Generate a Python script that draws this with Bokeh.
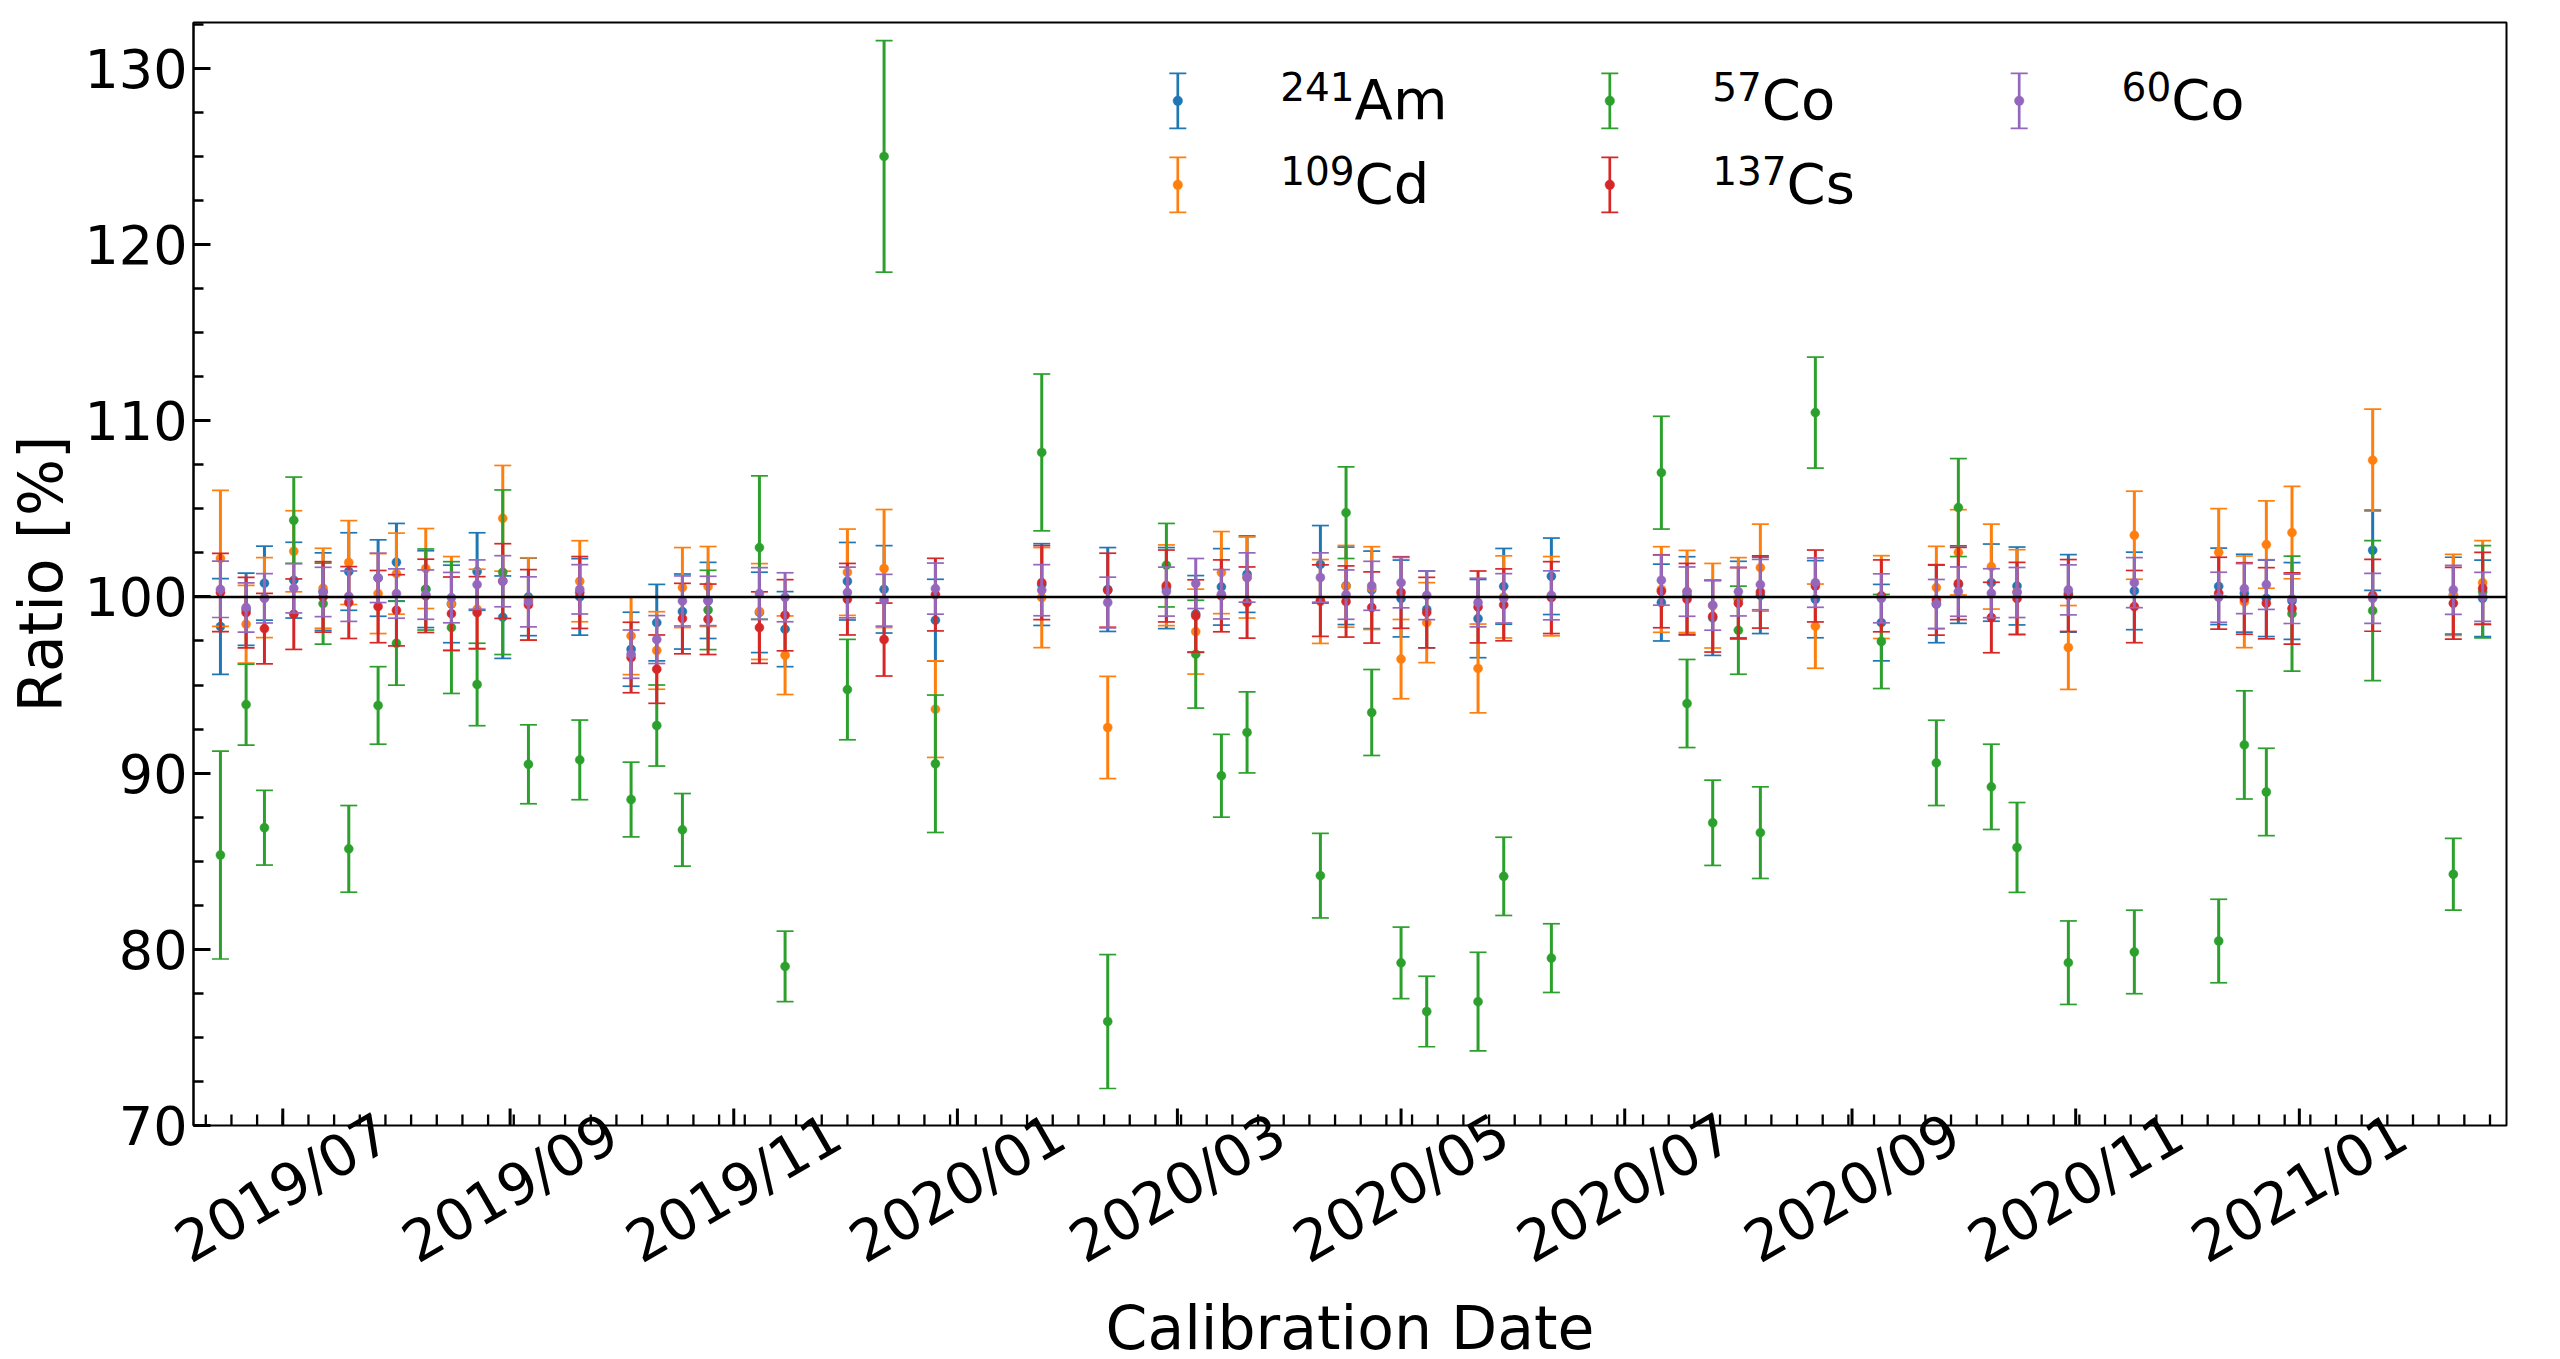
import math
from datetime import datetime, timedelta
import pandas as pd
from bokeh.plotting import figure
from bokeh.models import (Range1d, FixedTicker, SingleIntervalTicker, Span,
                          DatetimeTickFormatter, ColumnDataSource)
from bokeh.core.properties import value
from bokeh.embed import file_html
from bokeh.resources import INLINE

# ---------------- data ----------------
dates = ["2019-06-14", "2019-06-21", "2019-06-26", "2019-07-04", "2019-07-12", "2019-07-19",
         "2019-07-27", "2019-08-01", "2019-08-09", "2019-08-16", "2019-08-23", "2019-08-30",
         "2019-09-06", "2019-09-20", "2019-10-04", "2019-10-11", "2019-10-18", "2019-10-25",
         "2019-11-08", "2019-11-15", "2019-12-02", "2019-12-12", "2019-12-26", "2020-01-24",
         "2020-02-11", "2020-02-27", "2020-03-06", "2020-03-13", "2020-03-20", "2020-04-09",
         "2020-04-16", "2020-04-23", "2020-05-01", "2020-05-08", "2020-05-22", "2020-05-29",
         "2020-06-11", "2020-07-11", "2020-07-18", "2020-07-25", "2020-08-01", "2020-08-07",
         "2020-08-22", "2020-09-09", "2020-09-24", "2020-09-30", "2020-10-09", "2020-10-16",
         "2020-10-30", "2020-11-17", "2020-12-10", "2020-12-17", "2020-12-23", "2020-12-30",
         "2021-01-21", "2021-02-12", "2021-02-20"]

am = [98.32, 99.3, 100.78, 100.95, 100.3, 101.44, 101.07, 101.97, 100.44, 99.6, 101.44, 98.85,
      100.0, 100.0, 97.03, 98.54, 99.17, 99.8, 99.12, 98.17, 100.89, 100.43, 98.68, 100.7,
      100.42, 100.5, 99.03, 100.57, 101.29, 101.85, 100.63, 100.4, 99.91, 99.29, 98.77, 100.6,
      101.17, 99.68, 100.08, 98.81, 99.85, 100.09, 99.87, 98.54, 99.6, 100.7, 100.81, 100.62,
      100.2, 100.34, 100.6, 100.21, 99.92, 99.77, 102.65, 100.07, 99.92]
am_err = [2.72, 2.05, 2.1, 2.15, 2.2, 2.2, 2.17, 2.2, 2.18, 2.2, 2.2, 2.34, 2.2, 2.17, 2.1, 2.17,
          2.13, 2.16, 2.28, 2.13, 2.2, 2.48, 2.32, 2.32, 2.38, 2.3, 2.18, 2.17, 2.17, 2.2, 2.2,
          2.2, 2.18, 2.18, 2.22, 2.15, 2.17, 2.18, 2.2, 2.13, 2.17, 2.17, 2.19, 2.17, 2.2, 2.2,
          2.19, 2.21, 2.2, 2.2, 2.17, 2.21, 2.17, 2.18, 2.28, 2.18, 2.17]

cd = [102.19, 98.45, 99.96, 102.59, 100.49, 101.95, 100.19, 101.32, 101.61, 99.62, 99.3, 104.46,
      99.88, 100.89, 97.79, 96.96, 100.53, 100.59, 99.17, 96.69, 101.4, 101.61, 93.63, 99.96,
      92.59, 100.66, 98.03, 101.38, 101.1, 99.74, 100.6, 100.5, 96.47, 98.54, 95.94, 100.0,
      100.04, 100.42, 100.31, 99.5, 99.93, 101.66, 98.34, 99.99, 100.53, 102.53, 101.72, 100.28,
      97.13, 103.5, 102.53, 99.72, 102.97, 103.65, 107.76, 100.11, 100.81]
cd_err = [3.86, 2.2, 2.27, 2.3, 2.27, 2.38, 2.27, 2.3, 2.27, 2.67, 2.27, 3.0, 2.34, 2.3, 2.2, 2.2,
          2.27, 2.27, 2.72, 2.23, 2.45, 3.35, 2.74, 2.84, 2.9, 2.29, 2.41, 2.33, 2.3, 2.38, 2.32,
          2.35, 2.25, 2.27, 2.52, 2.33, 2.25, 2.43, 2.33, 2.4, 2.3, 2.47, 2.39, 2.35, 2.34, 2.42,
          2.41, 2.4, 2.38, 2.5, 2.48, 2.6, 2.48, 2.62, 2.9, 2.3, 2.38]

co57 = [85.35, 93.89, 86.9, 104.35, 99.62, 85.7, 93.84, 97.37, 100.42, 98.26, 95.03, 101.4, 90.5,
        90.75, 88.5, 92.7, 86.78, 99.26, 102.8, 79.03, 94.74, 125.0, 90.53, 108.2, 75.9, 101.8,
        96.75, 89.85, 92.31, 84.18, 104.78, 93.44, 79.23, 76.47, 77.03, 84.14, 79.5, 107.05,
        93.95, 87.18, 98.11, 86.62, 110.46, 97.47, 90.58, 105.07, 89.22, 85.78, 79.24, 79.85,
        80.47, 91.6, 88.93, 99.05, 99.22, 84.26, 100.29]
co57_err = [5.9, 2.3, 2.12, 2.45, 2.3, 2.46, 2.2, 2.38, 2.3, 3.74, 2.34, 4.67, 2.24, 2.26, 2.12,
            2.3, 2.06, 2.25, 4.07, 2.0, 2.85, 6.57, 3.9, 4.45, 3.8, 2.37, 3.06, 2.35, 2.3, 2.4,
            2.6, 2.44, 2.03, 2.0, 2.8, 2.22, 1.95, 3.2, 2.5, 2.42, 2.5, 2.6, 3.15, 2.67, 2.42,
            2.78, 2.42, 2.55, 2.37, 2.37, 2.37, 3.07, 2.48, 3.26, 3.97, 2.04, 2.62]

cs = [100.25, 99.11, 98.2, 99.02, 100.0, 99.68, 99.45, 99.24, 100.06, 99.05, 99.11, 100.9, 99.55,
      100.25, 96.56, 95.9, 98.77, 98.73, 98.26, 98.96, 99.87, 97.58, 100.13, 100.81, 100.38,
      100.62, 98.92, 100.06, 99.68, 99.79, 99.74, 99.4, 100.25, 99.11, 99.43, 99.55, 99.96,
      100.32, 99.87, 98.9, 99.64, 100.28, 100.62, 100.06, 99.83, 100.76, 98.83, 99.91, 100.08,
      99.45, 100.21, 99.91, 99.64, 99.34, 100.09, 99.64, 100.49]
cs_err = [2.22, 2.0, 2.0, 2.0, 2.0, 2.04, 2.05, 2.02, 2.08, 2.08, 2.04, 2.12, 2.0, 2.04, 2.0, 1.94,
          2.0, 2.0, 2.03, 2.02, 2.03, 2.07, 2.06, 2.1, 2.1, 2.04, 2.05, 2.04, 2.02, 2.03, 2.02,
          2.02, 2.03, 2.0, 2.04, 2.04, 2.04, 2.07, 2.03, 2.03, 2.02, 2.05, 2.04, 2.04, 2.0, 2.05,
          2.0, 2.05, 2.04, 2.05, 2.04, 2.03, 2.02, 2.02, 2.04, 2.04, 2.04]

co60 = [100.43, 99.4, 99.92, 100.49, 100.28, 100.04, 101.08, 100.19, 100.13, 99.96, 100.7,
        100.89, 99.72, 100.43, 96.75, 97.58, 99.77, 99.77, 100.19, 99.98, 100.25, 99.81, 100.47,
        100.38, 99.68, 100.3, 100.76, 100.15, 101.1, 101.1, 100.13, 100.63, 100.81, 100.09,
        99.68, 99.92, 100.09, 100.95, 100.3, 99.53, 100.3, 100.7, 100.81, 99.92, 99.6, 100.3,
        100.21, 100.25, 100.4, 100.81, 99.98, 100.47, 100.7, 99.89, 99.92, 100.4, 100.0]
co60_err = [1.6, 1.4, 1.4, 1.4, 1.4, 1.43, 1.4, 1.4, 1.4, 1.43, 1.4, 1.45, 1.42, 1.4, 1.37, 1.36,
            1.42, 1.4, 1.47, 1.39, 1.44, 1.47, 1.45, 1.45, 1.44, 1.39, 1.42, 1.4, 1.4, 1.4, 1.4,
            1.39, 1.43, 1.38, 1.38, 1.4, 1.39, 1.42, 1.4, 1.42, 1.38, 1.43, 1.4, 1.39, 1.39, 1.4,
            1.39, 1.42, 1.42, 1.42, 1.42, 1.42, 1.41, 1.4, 1.42, 1.39, 1.39]

sup_labels = ["241", "109", "57", "137", "60"]
main_labels = ["Am", "Cd", "Co", "Cs", "Co"]
colors = ["#1f77b4", "#ff7f0e", "#2ca02c", "#d62728", "#9467bd"]
series = [(am, am_err), (cd, cd_err), (co57, co57_err), (cs, cs_err), (co60, co60_err)]

tick_months = ["2019-07-01", "2019-09-01", "2019-11-01", "2020-01-01", "2020-03-01",
               "2020-05-01", "2020-07-01", "2020-09-01", "2020-11-01", "2021-01-01"]

# ---------------- layout constants ----------------
FONT = "DejaVu Sans"
FW, FH = 2313, 1103
ref = datetime(2019, 7, 1)
x_start = ref - timedelta(days=24.35)
x_end = ref + timedelta(days=606.5)
y0, y1 = 70.0, 132.6

def ms(d):
    return (d - datetime(1970, 1, 1)).total_seconds() * 1000.0

xs_ms, xe_ms = ms(x_start), ms(x_end)

p = figure(frame_width=FW, frame_height=FH, x_axis_type="datetime",
           x_range=Range1d(x_start, x_end), y_range=Range1d(y0, y1),
           output_backend="svg", toolbar_location=None,
           min_border_left=193, min_border_right=40, min_border_top=22, min_border_bottom=5,
           background_fill_color="white", border_fill_color="white")
p.xgrid.visible = False
p.ygrid.visible = False
p.outline_line_color = "black"
p.outline_line_width = 2

# reference line at 100 %
p.add_layout(Span(location=100, dimension="width", line_color="black", line_width=2.5))

xd = pd.to_datetime(dates)
for (vals, errs), col in zip(series, colors):
    lo = [v - e for v, e in zip(vals, errs)]
    hi = [v + e for v, e in zip(vals, errs)]
    src = ColumnDataSource(dict(x=xd, y=vals, lo=lo, hi=hi))
    p.segment(x0="x", y0="lo", x1="x", y1="hi", source=src, line_color=col, line_width=3)
    p.scatter(x="x", y="lo", source=src, marker="dash", size=17, line_color=col, line_width=1.7)
    p.scatter(x="x", y="hi", source=src, marker="dash", size=17, line_color=col, line_width=1.7)
    p.scatter(x="x", y="y", source=src, marker="circle", size=9, fill_color=col, line_color=col,
              line_width=0.5)

# ---------------- helpers: page pixels -> data ----------------
FL, FT = 196.0, 23.0  # intended frame left/top in page pixels
def px2x(px):
    return xs_ms + (px - FL) / FW * (xe_ms - xs_ms)
def py2y(py):
    return y1 - (py - FT) / FH * (y1 - y0)
px_unit = (y1 - y0) / FH  # data units per pixel (vertical)

# ---------------- x ticks (inward, drawn at the frame bottom) ----------------
major_ms = [ms(datetime.fromisoformat(t)) for t in tick_months]
mondays = []
d = datetime(2019, 6, 10)
while d < x_end:
    mondays.append(ms(d))
    d += timedelta(days=7)
p.segment(x0=mondays, y0=[y0] * len(mondays), x1=mondays, y1=[y0 + 11 * px_unit] * len(mondays),
          line_color="black", line_width=2.3)
p.segment(x0=major_ms, y0=[y0] * len(major_ms), x1=major_ms,
          y1=[y0 + 17 * px_unit] * len(major_ms), line_color="black", line_width=3)

# ---------------- legend (drawn in data space) ----------------
marker_px = [1180.3, 1180.3, 1612.3, 1612.3, 2021.7]
row_py = [101.3, 185.3, 101.3, 185.3, 101.3]
for i, col in enumerate(colors):
    mx = px2x(marker_px[i])
    yc = py2y(row_py[i])
    yt = py2y(row_py[i] - 27.5)
    yb = py2y(row_py[i] + 27.5)
    p.segment(x0=[mx], y0=[yb], x1=[mx], y1=[yt], line_color=col, line_width=2.7)
    p.scatter(x=[mx, mx], y=[yb, yt], marker="dash", size=17, line_color=col, line_width=1.7)
    p.scatter(x=[mx], y=[yc], marker="circle", size=9.5, fill_color=col, line_color=col,
              line_width=0.5)

tx = [px2x(marker_px[i] + 102.4) for i in range(5)]
sup_y = [py2y(row_py[i] - 14.0) for i in range(5)]
main_y = [py2y(row_py[i] - 1.0) for i in range(5)]
sup_w = [len(s) * 0.636 * 39 for s in sup_labels]
p.text(x=tx, y=sup_y, text=sup_labels, text_font=value(FONT), text_font_size="39px",
       text_baseline="alphabetic", text_align="left", text_color="black")
p.text(x=tx, y=main_y, text=main_labels, x_offset=sup_w, text_font=value(FONT),
       text_font_size="56px", text_baseline="alphabetic", text_align="left", text_color="black")

# ---------------- x axis: labels only (rotated, centred on the ticks) ----------------
LAB_PX = 57
label_len = 4.154 * LAB_PX
label_shift_days = (label_len / 2 * math.cos(math.pi / 6)) / 3.667
lab_ticks = [m + label_shift_days * 86400000.0 for m in major_ms]
fmt = "%Y/%m"
xa = p.xaxis[0]
xa.ticker = FixedTicker(ticks=lab_ticks, minor_ticks=[])
xa.formatter = DatetimeTickFormatter(years=fmt, months=fmt, days=fmt, hours=fmt, hourmin=fmt,
                                     minutes=fmt, minsec=fmt, seconds=fmt, milliseconds=fmt,
                                     microseconds=fmt, context=None)
xa.axis_line_color = None
xa.major_tick_line_color = None
xa.minor_tick_line_color = None
xa.major_tick_in = 0
xa.major_tick_out = 0
xa.minor_tick_in = 0
xa.minor_tick_out = 0
xa.major_label_orientation = math.pi / 6
xa.major_label_standoff = 3
xa.major_label_text_font = FONT
xa.major_label_text_font_size = f"{LAB_PX}px"
xa.major_label_text_color = "black"
xa.axis_label = "Calibration Date"
xa.axis_label_text_font = FONT
xa.axis_label_text_font_size = "60px"
xa.axis_label_text_font_style = "normal"
xa.axis_label_text_color = "black"
xa.axis_label_standoff = -14

# ---------------- y axis ----------------
ya = p.yaxis[0]
ya.ticker = SingleIntervalTicker(interval=10, num_minor_ticks=4)
ya.major_tick_in = 17
ya.major_tick_out = 0
ya.minor_tick_in = 10
ya.minor_tick_out = 0
ya.major_tick_line_width = 3
ya.minor_tick_line_width = 2.3
ya.axis_line_width = 2
ya.major_label_standoff = 6
ya.major_label_text_font = FONT
ya.major_label_text_font_size = "54px"
ya.major_label_text_color = "black"
ya.axis_label = "Ratio [%]"
ya.axis_label_text_font = FONT
ya.axis_label_text_font_size = "60px"
ya.axis_label_text_font_style = "normal"
ya.axis_label_text_color = "black"
ya.axis_label_standoff = 5

open("out.html", "w").write(file_html(p, INLINE))
